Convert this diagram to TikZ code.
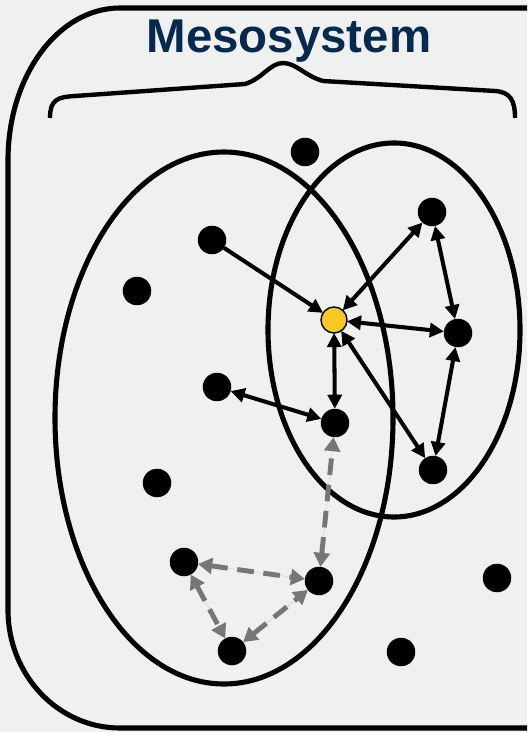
\documentclass[tikz,border=0pt]{standalone}
\usepackage{fontspec}
\setsansfont{Liberation Sans}
\usetikzlibrary{arrows.meta}
\definecolor{titleblue}{HTML}{062A4E}
\definecolor{hubyellow}{HTML}{F8C925}
\definecolor{linkgray}{HTML}{7A7575}
\definecolor{paper}{HTML}{EFF0F0}
\tikzset{
  dot/.style={circle,fill=black,inner sep=0pt,outer sep=0pt,minimum size=0.57cm},
  hub/.style={circle,fill=hubyellow,draw=black,line width=0.8pt,inner sep=0pt,outer sep=0pt,minimum size=0.52cm},
  ring/.style={line width=2.9pt},
  frame/.style={line width=2.9pt},
  brace/.style={line width=2.5pt,line join=round},
  link/.style={line width=2.3pt,<->},
  dlink/.style={line width=2.8pt,draw=linkgray,dash pattern=on 9.5pt off 5.5pt,
    >={Triangle[length=8pt,width=9pt]},<->,fill=linkgray}
}
\begin{document}
\begin{tikzpicture}[x=0.02cm,y=-0.02cm,>={Triangle[length=8pt,width=8pt]}]
\fill[paper] (0,0) rectangle (527,732);
\draw[frame] (527,8) -- (120,8) arc[start angle=-90,end angle=-180,x radius=112,y radius=152]
  -- (8,610) arc[start angle=180,end angle=90,x radius=112,y radius=118] -- (527,728);
\node[font=\sffamily\bfseries\fontsize{27}{30}\selectfont,text=titleblue,anchor=base] (title) at (289,53) {Mesosystem};
\draw[brace] (50,118) .. controls (50,100) and (57,97) .. (75,96) -- (245,84)
  .. controls (262,79) and (270,63) .. (283,63) .. controls (296,63) and (305,76) .. (323,81)
  -- (495,91) .. controls (510,92) and (515,100) .. (515,118);
\draw[ring] (224,418) ellipse (169 and 266);
\draw[ring] (394,330) ellipse (126 and 187);
% people
\node[dot] (top) at (305,152) {};
\node[dot] (lA) at (212,240) {};
\node[dot] (lB) at (137,291) {};
\node[dot] (lC) at (217,387) {};
\node[dot] (lD) at (157,483) {};
\node[dot] (rA) at (432,212) {};
\node[dot] (rB) at (458,333) {};
\node[dot] (rC) at (433,470) {};
\node[hub] (hub) at (334,320) {};
\node[dot] (mid) at (335,423) {};
\node[dot] (gA) at (184,562) {};
\node[dot] (gB) at (319,581) {};
\node[dot] (gC) at (232,651) {};
\node[dot] (oA) at (497,578) {};
\node[dot] (oB) at (401,652) {};
% links
\draw[link,->] (lA) -- (hub);
\draw[link] (rA) -- (hub);
\draw[link] (rB) -- (hub);
\draw[link] (rC) -- (hub);
\draw[link] (mid) -- (hub);
\draw[link] (rA) -- (rB);
\draw[link] (rB) -- (rC);
\draw[link] (lC) -- (mid);
\draw[dlink] (gB) -- (mid);
\draw[dlink] (gA) -- (gB);
\draw[dlink] (gA) -- (gC);
\draw[dlink] (gC) -- (gB);
\end{tikzpicture}
\end{document}
